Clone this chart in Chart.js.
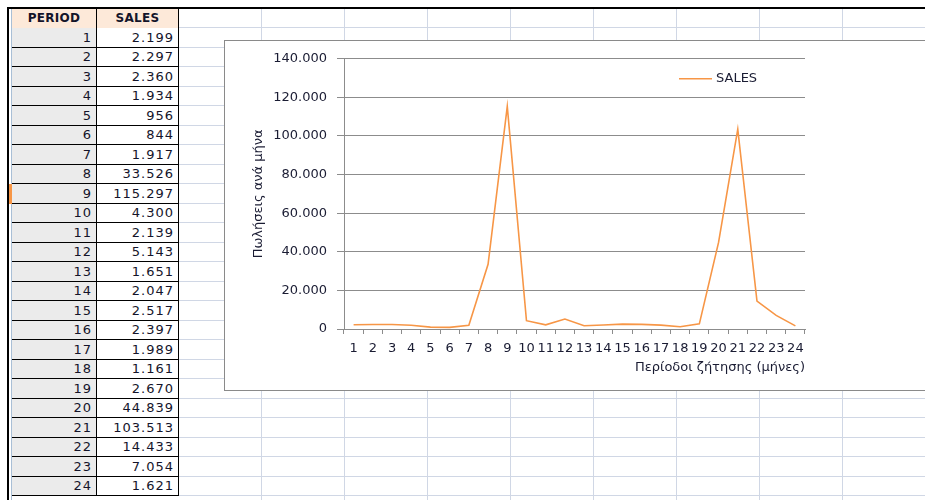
<!DOCTYPE html>
<html>
<head>
<meta charset="utf-8">
<script src="https://cdn.jsdelivr.net/npm/chart.js@4"></script>
<style>
  body { margin: 0; width: 925px; height: 500px; overflow: hidden; position: relative; background: #fff; font-family: "DejaVu Sans", sans-serif; }
  .gl { position: absolute; background: #d0d7e5; }
  #topLine { position: absolute; left: 7px; top: 7px; width: 930px; height: 2px; background: #000; }
  #leftLine { position: absolute; left: 7px; top: 7px; width: 2px; height: 500px; background: #000; }
  #blueLine { position: absolute; left: 11px; top: 9px; width: 1px; height: 500px; background: #a9bfd6; }
  .cell { position: absolute; box-sizing: border-box; border-right: 1px solid #000; border-bottom: 1px solid #000;
    font-size: 13px; color: #14142a; text-align: right; padding-right: 4px; letter-spacing: 1px; line-height: 19px; }
  .per { left: 12px; width: 85px; background: #ebebeb; }
  .sal { left: 97px; width: 82px; background: #fff; }
  .head { background: #fde9d9; text-align: center; font-weight: bold; letter-spacing: 0.3px; padding-right: 0; font-size: 12px; }
  #marker { position: absolute; left: 9px; width: 3px; background: #f79646; }
  #chartBox { position: absolute; left: 224px; top: 40px; width: 720px; height: 349px; border: 1px solid #8a8a8a; background: #fff; }
</style>
</head>
<body>
<div id="sheet"></div>
<div id="topLine"></div>
<div id="leftLine"></div>
<div id="blueLine"></div>
<div id="table"></div>
<div id="marker"></div>
<div id="chartBox"><canvas id="salesChart"></canvas></div>
<script>
// data from the sheet
const periods = ["1", "2", "3", "4", "5", "6", "7", "8", "9", "10", "11", "12",
  "13", "14", "15", "16", "17", "18", "19", "20", "21", "22", "23", "24"];
const sales = [2199, 2297, 2360, 1934, 956, 844, 1917, 33526, 115297, 4300, 2139, 5143,
  1651, 2047, 2517, 2397, 1989, 1161, 2670, 44839, 103513, 14433, 7054, 1621];
const headers = ["PERIOD", "SALES"];
const selectedPeriod = "9";

const yMin = 0;
const yMax = 140000;
const yStep = 20000;

const seriesName = "SALES";
const xTitle = "Περίοδοι ζήτησης (μήνες)";
const yTitle = "Πωλήσεις ανά μήνα";

// 2199 -> "2.199"
function fmt(v) {
    return String(v).replace(/\B(?=(\d{3})+(?!\d))/g, ".");
}

// empty sheet gridlines right of the table
const sheet = document.getElementById("sheet");
function addLine(l, t, w, h) {
    const d = document.createElement("div");
    d.className = "gl";
    d.style.left = l + "px";
    d.style.top = t + "px";
    d.style.width = w + "px";
    d.style.height = h + "px";
    sheet.appendChild(d);
}
for (let c = 1; c <= 9; c++) addLine(178 + c * 83, 9, 1, 500);
for (let r = 0; r <= 25; r++) addLine(179, Math.round(27 + r * 19.5), 760, 1);

// spreadsheet cells
const table = document.getElementById("table");
function addCell(cls, top, h, text) {
    const d = document.createElement("div");
    d.className = "cell " + cls;
    d.style.top = top + "px";
    d.style.height = h + "px";
    d.style.lineHeight = (h - 1) + "px";
    d.textContent = text;
    table.appendChild(d);
}
addCell("per head", 9, 20, headers[0]);
addCell("sal head", 9, 20, headers[1]);
periods.forEach((p, i) => {
    const top = Math.round(28 + i * 19.5);
    const h = Math.round(28 + (i + 1) * 19.5) - top;
    addCell("per", top, h, p);
    addCell("sal", top, h, fmt(sales[i]));
    if (p === selectedPeriod) {
        const m = document.getElementById("marker");
        m.style.top = top + "px";
        m.style.height = h + "px";
    }
});

const textColor = "#1a1c33";
const gridColor = "#8c8c8c";
const lineColor = "#f79646";
const font13 = { family: "DejaVu Sans", size: 13 };

// legend drawn inside the plot, top right
const insideLegend = {
    id: "insideLegend",
    afterDraw(chart) {
        const ctx = chart.ctx;
        const area = chart.chartArea;
        const ds = chart.data.datasets[0];
        const x = area.right - 126;
        const y = area.top + 20;
        ctx.save();
        ctx.strokeStyle = ds.borderColor;
        ctx.lineWidth = 1.6;
        ctx.beginPath();
        ctx.moveTo(x, y);
        ctx.lineTo(x + 33, y);
        ctx.stroke();
        ctx.fillStyle = textColor;
        ctx.font = "13px 'DejaVu Sans'";
        ctx.textBaseline = "middle";
        ctx.fillText(ds.label, x + 37, y);
        ctx.restore();
    }
};

new Chart(document.getElementById("salesChart"), {
    type: "line",
    data: {
        labels: periods,
        datasets: [{
            label: seriesName,
            data: sales,
            borderColor: lineColor,
            backgroundColor: lineColor,
            borderWidth: 1.6,
            pointRadius: 0,
            tension: 0
        }]
    },
    options: {
        responsive: true,
        maintainAspectRatio: false,
        animation: false,
        layout: { padding: { left: 22, right: 140, top: 10, bottom: 11 } },
        plugins: {
            legend: { display: false },
            tooltip: { enabled: false }
        },
        scales: {
            x: {
                offset: true,
                afterFit: (s) => { s.height = 50; },
                grid: { drawOnChartArea: false, offset: true, tickLength: 5, color: gridColor },
                border: { color: gridColor },
                ticks: { color: textColor, font: font13, padding: 7, autoSkip: false, maxRotation: 0 },
                title: { display: true, text: xTitle, align: "end", color: textColor, font: font13 }
            },
            y: {
                min: yMin,
                max: yMax,
                afterFit: (s) => { s.width = 97; },
                grid: { color: gridColor, tickLength: 7 },
                border: { color: gridColor },
                ticks: { stepSize: yStep, color: textColor, font: font13, padding: 10, callback: (v) => fmt(v) },
                title: { display: true, text: yTitle, color: textColor, font: font13 }
            }
        }
    },
    plugins: [insideLegend]
});
</script>
</body>
</html>
